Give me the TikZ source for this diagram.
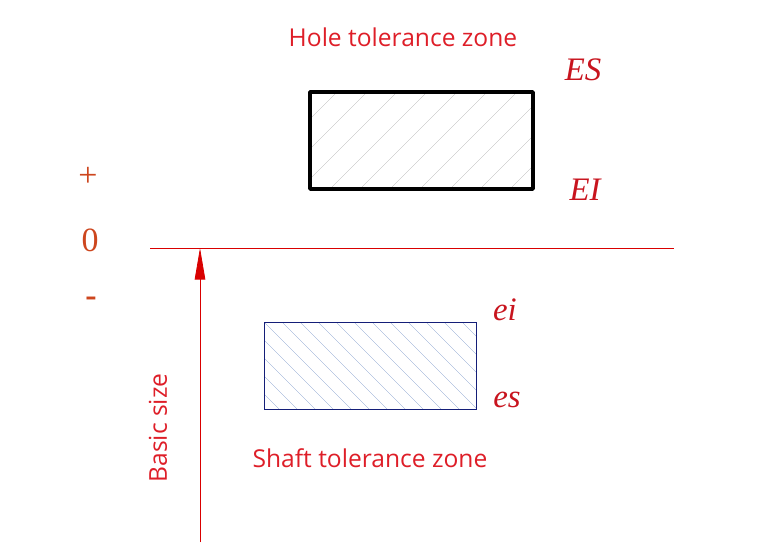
\documentclass[tikz,border=0pt]{standalone}
\usepackage{fontspec}
\setmainfont{Liberation Serif}
\setsansfont{Open Sans}
\usetikzlibrary{arrows.meta}
\definecolor{dimred}{RGB}{222,30,40}
\definecolor{devred}{RGB}{200,20,30}
\definecolor{signred}{RGB}{205,70,30}
\definecolor{hatchblue}{RGB}{120,150,200}
\definecolor{edgeblue}{RGB}{20,30,120}
\tikzstyle{zonelabel} = [text=dimred, font=\sffamily\fontsize{21}{21}\selectfont]
\tikzstyle{devlabel} = [text=devred, font=\itshape\fontsize{28}{28}\selectfont]
\tikzstyle{signlabel} = [text=signred, font=\fontsize{29}{29}\selectfont]
\tikzstyle{redline} = [draw=red!85!black, line width=0.7pt]

\begin{document}
\begin{tikzpicture}[x=0.03cm,y=0.03cm]
	\useasboundingbox (0,0) rectangle (768,548);
	% zero line and basic size
	\coordinate (zl) at (150,300);
	\coordinate (zr) at (674,300);
	\coordinate (base) at (200,6);
	\coordinate (zero) at (200,300);
	\draw[redline] (zl) -- (zr);
	\draw[redline,-{Triangle[length=27pt,width=9pt]},fill=red!85!black] (base) -- (zero);
	\node[zonelabel,rotate=90] (basic) at (158,120) {Basic size};

	\node[signlabel] (plus) at (88,371) {+};
	\node[signlabel] (nil) at (90,308) {0};
	\node[signlabel] (minus) at (91,246) {\textbf{-}};

	% hole zone
	\begin{scope}
		\clip (310,359) rectangle (533,456);
		\foreach \x in {210,240,...,540}
		{
			\draw[gray!65,very thin] (\x,359) -- ++(100,100);
		}
	\end{scope}
	\draw[black,line width=3pt,line join=round] (310,359) rectangle (533,456);
	\node[zonelabel] (holezone) at (403,511) {Hole tolerance zone};
	\node[devlabel] (ES) at (583,478) {ES};
	\node[devlabel] (EI) at (585,358) {EI};

	% shaft zone
	\begin{scope}
		\clip (264,139) rectangle (476,226);
		\foreach \x in {174,192,...,480}
		{
			\draw[hatchblue,very thin] (\x,226) -- ++(90,-90);
		}
	\end{scope}
	\draw[edgeblue,line width=0.6pt] (264,139) rectangle (476,226);
	\node[zonelabel] (shaftzone) at (370,90) {Shaft tolerance zone};
	\node[devlabel] (ei) at (505,238) {ei};
	\node[devlabel] (es) at (507,148) {es};
\end{tikzpicture}
\end{document}
